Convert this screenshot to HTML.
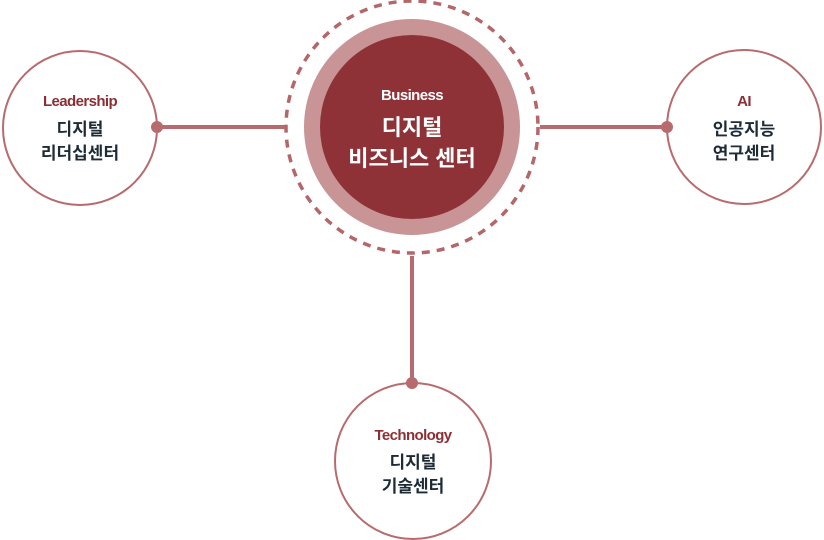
<!DOCTYPE html>
<html><head><meta charset="utf-8"><style>
html,body{margin:0;padding:0;background:#fff;width:824px;height:540px;overflow:hidden}
svg{display:block}
text{font-family:"Liberation Sans","Noto Sans CJK KR",sans-serif;text-anchor:middle;font-weight:bold}
.t{fill:#8b2f35;font-size:15px;letter-spacing:-0.6px}
.k{fill:#1d2b36;font-size:17px}
</style></head><body>
<svg width="824" height="540" viewBox="0 0 824 540">
<g stroke="#b86b6e" stroke-width="4">
<line x1="157" y1="127" x2="285" y2="127"/>
<line x1="540" y1="127" x2="667" y2="127"/>
<line x1="412" y1="256" x2="412" y2="383"/>
</g>
<circle cx="412" cy="127" r="126" fill="none" stroke="#b56668" stroke-width="3.5" stroke-dasharray="8 7"/>
<circle cx="412" cy="127" r="108" fill="#c89496"/>
<circle cx="412" cy="127" r="92" fill="#8e3237"/>
<text x="412" y="100" fill="#fff" style="font-size:15px;letter-spacing:-0.6px">Business</text>
<text x="412" y="135" fill="#fff" style="font-size:22px">디지털</text>
<text x="412" y="166" fill="#fff" style="font-size:22px">비즈니스 센터</text>
<g fill="#fff" stroke="#b86b6e" stroke-width="2">
<circle cx="80" cy="128" r="77"/>
<circle cx="744" cy="127" r="77"/>
<circle cx="413" cy="461" r="78"/>
</g>
<g fill="#b86b6e">
<circle cx="157" cy="127" r="6"/>
<circle cx="667" cy="127" r="6"/>
<circle cx="412" cy="383" r="6"/>
</g>
<text class="t" x="80" y="106">Leadership</text>
<text class="k" x="80" y="135">디지털</text>
<text class="k" x="80" y="159">리더십센터</text>
<text class="t" x="744" y="106">AI</text>
<text class="k" x="744" y="135">인공지능</text>
<text class="k" x="744" y="159">연구센터</text>
<text class="t" x="413" y="440">Technology</text>
<text class="k" x="413" y="468">디지털</text>
<text class="k" x="413" y="492">기술센터</text>
</svg>
</body></html>
